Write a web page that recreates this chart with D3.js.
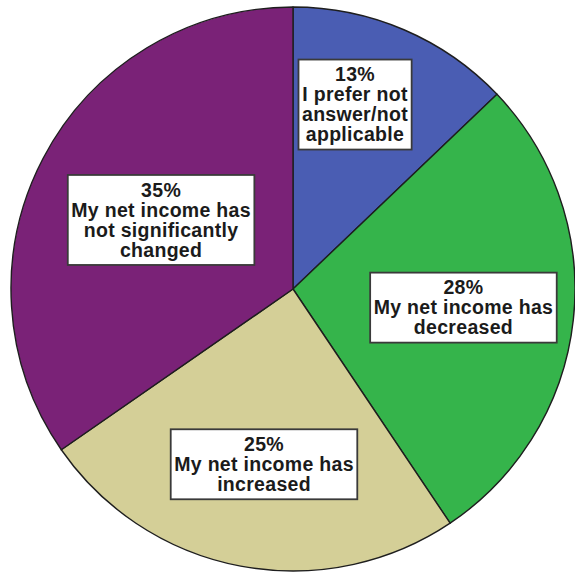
<!DOCTYPE html>
<html>
<head>
<meta charset="utf-8">
<script src="https://cdn.jsdelivr.net/npm/d3@7"></script>
<style>
  html, body { margin: 0; padding: 0; background: #ffffff; }
  svg { display: block; }
</style>
</head>
<body>
<svg id="chart" width="575" height="573"></svg>
<script>
// Survey responses: change in net income
const categories = [
  "I prefer not answer/not applicable",
  "My net income has decreased",
  "My net income has increased",
  "My net income has not significantly changed"
];
const percentages = [13, 28, 25, 35];
const labelLines = [
  ["13%", "I prefer not", "answer/not", "applicable"],
  ["28%", "My net income has", "decreased"],
  ["25%", "My net income has", "increased"],
  ["35%", "My net income has", "not significantly", "changed"]
];

// Styling / layout
const sliceColors = ["#4a5db3", "#35b44b", "#d4cf97", "#7a2277"];
const labelRadiusFrac = [0.69, 0.608, 0.63, 0.528];
const labelAngleNudge = [-4.6, 0, -1.3, 0]; // degrees

const W = 575, H = 573;
const cx = 293, cy = 289, R = 282;

const svg = d3.select("#chart");
const g = svg.append("g").attr("transform", `translate(${cx},${cy})`);

const data = categories.map((c, i) => ({ category: c, value: percentages[i], lines: labelLines[i], i }));

const pie = d3.pie().value(d => d.value).sort(null);
const arcs = pie(data);
const arc = d3.arc().innerRadius(0).outerRadius(R);

g.selectAll("path.slice")
  .data(arcs)
  .join("path")
  .attr("class", "slice")
  .attr("d", arc)
  .attr("fill", d => sliceColors[d.data.i])
  .attr("stroke", "#1e1e1e")
  .attr("stroke-width", 1.4)
  .attr("stroke-linejoin", "round");

const fontSize = 19.5;
const lineH = 20;

const labels = g.selectAll("g.label")
  .data(arcs)
  .join("g")
  .attr("class", "label")
  .attr("transform", d => {
    const a = (d.startAngle + d.endAngle) / 2 + labelAngleNudge[d.data.i] * Math.PI / 180;
    const r = R * labelRadiusFrac[d.data.i];
    return `translate(${r * Math.sin(a)},${-r * Math.cos(a)})`;
  });

labels.each(function(d) {
  const sel = d3.select(this);
  const n = d.data.lines.length;
  const rect = sel.append("rect");
  const text = sel.append("text")
    .attr("text-anchor", "middle")
    .attr("font-family", "'Liberation Sans', Arial, sans-serif")
    .attr("font-weight", "bold")
    .attr("font-size", fontSize)
    .attr("letter-spacing", 0.3)
    .attr("fill", "#1b1b1b");
  d.data.lines.forEach((ln, k) => {
    text.append("tspan")
      .attr("x", 0)
      .attr("y", (k - (n - 1) / 2) * lineH)
      .attr("dy", "0.35em")
      .text(ln);
  });
  const bb = text.node().getBBox();
  const padX = 3.5, padY = 5;
  rect.attr("x", bb.x - padX)
    .attr("y", -(n * lineH) / 2 - padY)
    .attr("width", bb.width + 2 * padX)
    .attr("height", n * lineH + 2 * padY)
    .attr("fill", "#ffffff")
    .attr("stroke", "#3a3a3a")
    .attr("stroke-width", 1.8);
});
</script>
</body>
</html>
